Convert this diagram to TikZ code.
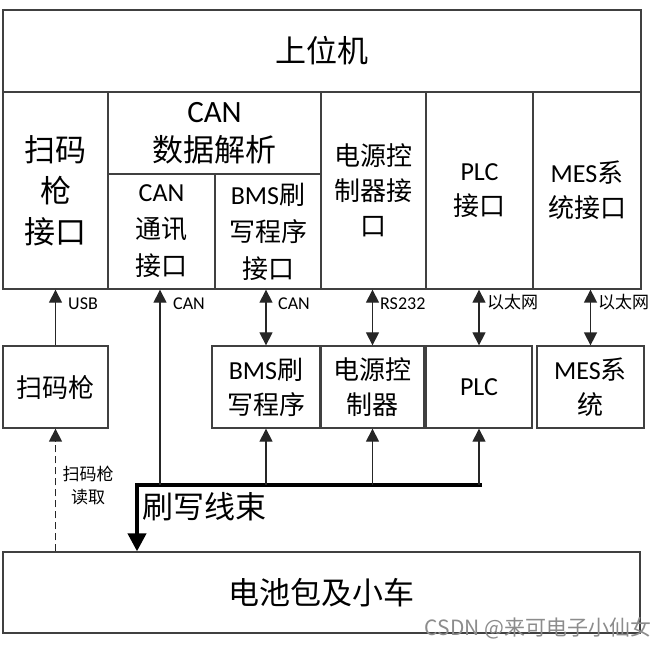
\documentclass[tikz,border=0pt]{standalone}
\usepackage{fontspec}
\setmainfont{Noto Sans CJK SC}
\newfontfamily\lat{Carlito}
\usetikzlibrary{positioning}
\usetikzlibrary{calc}
\usetikzlibrary{arrows.meta}

\begin{document}
\begin{tikzpicture}[x=1pt, y=-1pt,
    box/.style={draw=black!75, line width=1.3pt, inner sep=0pt, align=center, font=\fontsize{26}{35}\selectfont},
    big/.style={font=\fontsize{31}{41}\selectfont},
    tag/.style={anchor=west, inner sep=0pt, font=\fontsize{17}{23}\selectfont},
    link/.style={draw=black!85, line width=1.2pt, -{Triangle[width=13pt,length=13pt]}},
    both/.style={draw=black!85, line width=1.2pt, {Triangle[width=13pt,length=13pt]}-{Triangle[width=13pt,length=13pt]}}]

    \useasboundingbox (0,0) rectangle (660,646);

    % upper computer and its interfaces
    \node[box, big, minimum width=638pt, minimum height=82pt] (host) at (322,51) {上位机};
    \node[box, big, minimum width=105pt, minimum height=197pt] (scanif) at (55.5,190.5) {扫码\\枪\\接口};
    \node[box, big, minimum width=213pt, minimum height=82pt, font=\fontsize{31}{39}\selectfont] (canparse) at (214.5,133) {{\lat CAN}\\数据解析};
    \node[box, minimum width=107pt, minimum height=115pt, font=\fontsize{26}{37}\selectfont] (cancomm) at (161.5,231.5) {{\lat CAN}\\通讯\\接口};
    \node[box, minimum width=106pt, minimum height=115pt, font=\fontsize{26}{37}\selectfont] (bmsif) at (268,231.5) {{\lat BMS}刷\\写程序\\接口};
    \node[box, minimum width=105pt, minimum height=197pt] (psuif) at (373.5,190.5) {电源控\\制器接\\口};
    \node[box, minimum width=107pt, minimum height=197pt] (plcif) at (479.5,190.5) {{\lat PLC}\\接口};
    \node[box, minimum width=108pt, minimum height=197pt] (mesif) at (587,190.5) {{\lat MES}系\\统接口};

    % field devices
    \node[box, minimum width=105pt, minimum height=82pt] (scanner) at (55.5,387) {扫码枪};
    \node[box, minimum width=108pt, minimum height=82pt] (bms) at (266,387) {{\lat BMS}刷\\写程序};
    \node[box, minimum width=103pt, minimum height=82pt] (psu) at (372.5,387) {电源控\\制器};
    \node[box, minimum width=106pt, minimum height=82pt] (plc) at (479,387) {{\lat PLC}};
    \node[box, minimum width=107pt, minimum height=82pt] (mes) at (590.5,387) {{\lat MES}系\\统};

    \node[box, big, minimum width=637pt, minimum height=81pt] (battery) at (321.5,592.5) {电池包及小车};

    % harness
    \coordinate (busL) at (137,485);
    \coordinate (busR) at (482,485);
    \coordinate (tapcan) at (160,485);
    \draw[line width=4pt, -{Triangle[width=18pt,length=18pt]}] (busR) -- (busL) -- (busL |- battery.north);
    \node[anchor=west, inner sep=0pt, font=\fontsize{31}{41}\selectfont] (harness) at (142,507) {刷写线束};

    \draw[link] (scanner.north) -- (scanner.north |- scanif.south);
    \draw[link] (tapcan) -- (tapcan |- cancomm.south);
    \draw[both] (bms.north) -- (bms.north |- bmsif.south);
    \draw[both] (psu.north) -- (psu.north |- psuif.south);
    \draw[both] (plc.north) -- (plc.north |- plcif.south);
    \draw[both, line width=1.5pt] (mes.north) -- (mes.north |- mesif.south);

    \draw[link] (bms.south |- busL) -- (bms.south);
    \draw[link] (psu.south |- busL) -- (psu.south);
    \draw[link] (plc.south |- busL) -- (plc.south);
    \draw[link, dash pattern=on 7pt off 4pt, line width=1.4pt] (scanner.south |- battery.north) -- (scanner.south);

    % link labels
    \node[tag, font=\lat\fontsize{18}{22}\selectfont] (usb) at (68,304) {USB};
    \node[tag, font=\lat\fontsize{18}{22}\selectfont] (can1) at (173,304) {CAN};
    \node[tag, font=\lat\fontsize{18}{22}\selectfont] (can2) at (278,304) {CAN};
    \node[tag, font=\lat\fontsize{18}{22}\selectfont] (rs) at (380,304) {RS232};
    \node[tag] (eth1) at (487,302) {以太网};
    \node[tag] (eth2) at (598,302) {以太网};
    \node[tag, anchor=center, align=center] (read) at (88,486) {扫码枪\\读取};

    \node[inner sep=0pt, text=black!45, font=\fontsize{21}{25}\selectfont] (mark) at (538,628) {CSDN @来可电子小仙女};
\end{tikzpicture}
\end{document}
